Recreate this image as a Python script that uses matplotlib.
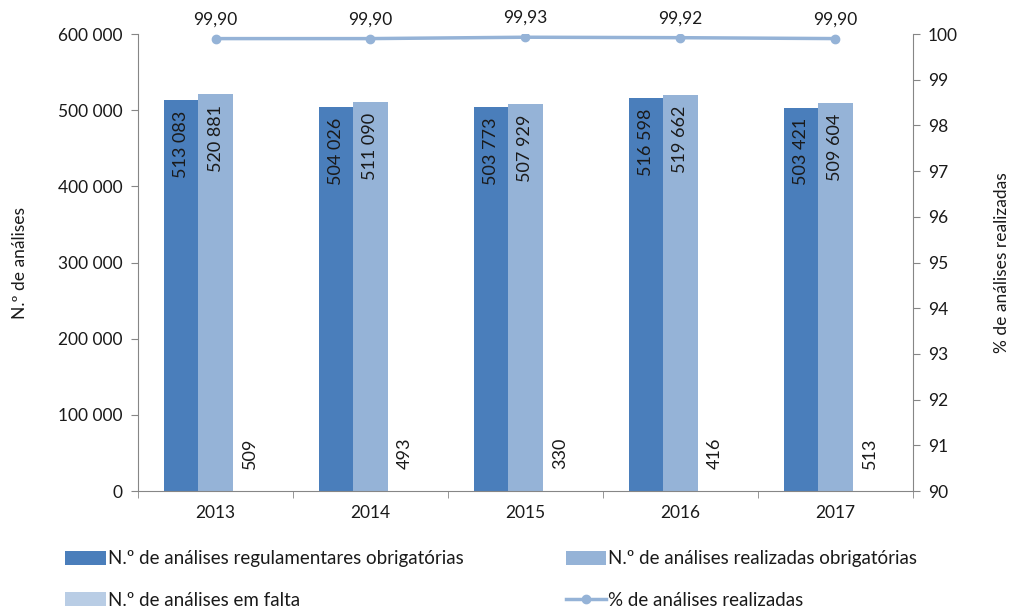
import matplotlib.pyplot as plt
import numpy as np

plt.rcParams['font.family'] = ['Lato', 'DejaVu Sans']

# Data
years = ['2013', '2014', '2015', '2016', '2017']
regulamentares = [513083, 504026, 503773, 516598, 503421]
realizadas = [520881, 511090, 507929, 519662, 509604]
em_falta = [509, 493, 330, 416, 513]
pct_realizadas = [99.90, 99.90, 99.93, 99.92, 99.90]

c_reg = '#4a7ebb'
c_real = '#95b3d7'
c_falta = '#b9cde5'
c_line = '#95b3d7'
axis_gray = '#868686'
txt = '#1a1a1a'


def fmt_thousands(v):
    return f"{int(v):,}".replace(",", " ")


fig = plt.figure(figsize=(10.12, 6.12), dpi=100)
ax1 = fig.add_axes([0.1364, 0.1977, 0.7656, 0.7467])
ax2 = ax1.twinx()

x = np.arange(len(years))
w = 0.222

b1 = ax1.bar(x - w, regulamentares, w, color=c_reg, label='N.º de análises regulamentares obrigatórias')
b2 = ax1.bar(x, realizadas, w, color=c_real, label='N.º de análises realizadas obrigatórias')
b3 = ax1.bar(x + w, em_falta, w, color=c_falta, label='N.º de análises em falta')

# data labels, rotated like the source
for bars in (b1, b2):
    for r in bars:
        ax1.text(r.get_x() + r.get_width() / 2, r.get_height() - 14000, fmt_thousands(r.get_height()),
                 rotation=90, ha='center', va='top', fontsize=13, color=txt)
for r in b3:
    ax1.text(r.get_x() + r.get_width() / 2, r.get_height() + 28000, fmt_thousands(r.get_height()),
             rotation=90, ha='center', va='bottom', fontsize=13, color=txt)

ax1.set_xlim(-0.5, len(years) - 0.5)
ax1.set_ylim(0, 600000)
ax1.set_yticks(range(0, 600001, 100000))
ax1.set_yticklabels([fmt_thousands(v) for v in range(0, 600001, 100000)])
ax1.set_ylabel('N.º de análises', fontsize=12.5, color=txt, labelpad=22)

ax1.set_xticks(x)
ax1.set_xticklabels(years)
ax1.set_xticks(np.arange(-0.5, len(years)), minor=True)
ax1.tick_params(axis='x', which='major', length=0, pad=10, labelsize=12.5, labelcolor=txt)
ax1.tick_params(axis='x', which='minor', length=5, color=axis_gray)
ax1.tick_params(axis='y', length=5, color=axis_gray, labelsize=12.5, labelcolor=txt, pad=6)

line, = ax2.plot(x, pct_realizadas, color=c_line, linewidth=2.5, marker='o', markersize=6,
                 label='% de análises realizadas')
for xi, p in zip(x, pct_realizadas):
    ax2.text(xi, p + 0.25, f"{p:.2f}".replace('.', ','), ha='center', va='bottom', fontsize=12.5, color=txt)
ax2.set_ylim(90, 100)
ax2.set_yticks(range(90, 101))
ax2.tick_params(axis='y', length=5, color=axis_gray, labelsize=12.5, labelcolor=txt, pad=6)
ax2.set_ylabel('% de análises realizadas', fontsize=12.5, color=txt, labelpad=26)

for ax in (ax1, ax2):
    ax.spines['top'].set_visible(False)
    for s in ('left', 'right', 'bottom'):
        ax.spines[s].set_color(axis_gray)
ax1.spines['right'].set_visible(False)
ax2.spines['left'].set_visible(False)
ax2.spines['bottom'].set_visible(False)

handles = [b1, b3, b2, line]
labels = [h.get_label() for h in handles]
fig.legend(handles, labels, ncol=2, loc='lower left', bbox_to_anchor=(0.048, -0.022),
           frameon=False, fontsize=13.5, handlelength=2.15, handleheight=0.8, columnspacing=5.45,
           labelspacing=1.3, handletextpad=0.1, labelcolor=txt)

fig.savefig('out.png', dpi=100)
